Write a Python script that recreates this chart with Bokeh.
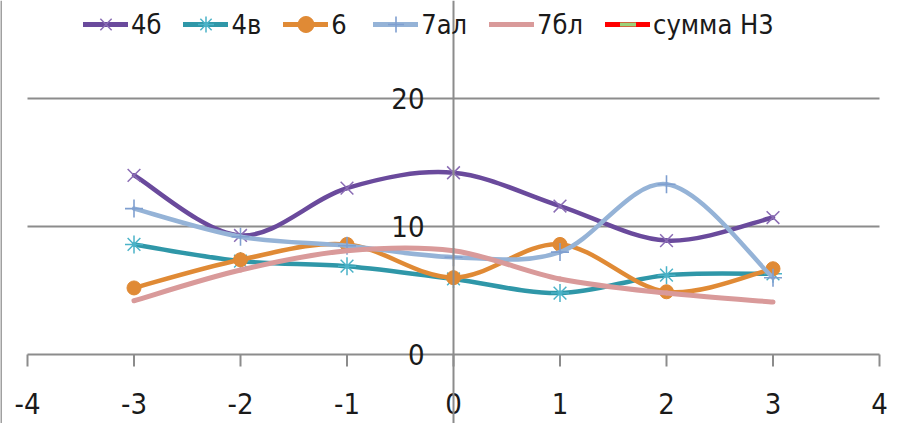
from bokeh.plotting import figure
from bokeh.models import Span, Legend, LegendItem, Range1d, ColumnDataSource
from bokeh.core.properties import value
from bokeh.embed import file_html
from bokeh.resources import INLINE

# --- data -----------------------------------------------------------------
x_vals = [-3, -2, -1, 0, 1, 2, 3]

s_4b = [14.0, 9.3, 13.0, 14.2, 11.6, 8.9, 10.7]
s_4v = [8.6, 7.3, 6.9, 5.9, 4.8, 6.2, 6.3]
s_6 = [5.2, 7.4, 8.6, 6.0, 8.6, 4.9, 6.7]
s_7al = [11.4, 9.2, 8.5, 7.6, 8.0, 13.3, 6.0]
s_7bl = [4.2, 6.6, 8.1, 8.1, 5.9, 4.8, 4.1]

series_names = ["4б", "4в", "6", "7ал", "7бл", "сумма Н3"]
y_ticks = [0, 10, 20]
x_ticks = [-4, -3, -2, -1, 0, 1, 2, 3, 4]

FONT = "'Liberation Sans Narrow', 'DejaVu Sans Condensed', 'Roboto'"
GRAY = "#8c8c8c"
TEXT = "#1a1a1a"
NAN = float("nan")

# the frame fills the whole page; both axes are drawn by hand so that
# they can cross at the origin
px_x = 106.5          # pixels per x unit
px_y = 12.8           # pixels per y unit
x_start = -4 - 27 / px_x
x_end = 4 + 18 / px_x
y_start = -(423 - 354) / px_y
y_end = 354 / px_y
x_lo, x_hi = x_ticks[0], x_ticks[-1]

p = figure(width=897, height=423, output_backend="svg", toolbar_location=None,
           x_range=Range1d(x_start, x_end), y_range=Range1d(y_start, y_end),
           min_border=0)
p.outline_line_color = None
p.background_fill_color = "white"
p.border_fill_color = "white"
p.xaxis.visible = False
p.yaxis.visible = False
p.grid.visible = False

# horizontal grid lines from -4 to 4 (the 0 line doubles as the x axis line)
p.segment(x0=[x_lo] * len(y_ticks), y0=y_ticks, x1=[x_hi] * len(y_ticks),
          y1=y_ticks, line_color=GRAY, line_width=2)

# x axis ticks and labels
tick_len = 12 / px_y
p.segment(x0=x_ticks, y0=[0] * len(x_ticks), x1=x_ticks,
          y1=[-tick_len] * len(x_ticks), line_color=GRAY, line_width=2)
p.text(x=x_ticks, y=[0] * len(x_ticks), text=[str(t) for t in x_ticks],
       text_font=value(FONT), text_font_size="29px", text_color=TEXT,
       text_align="center", text_baseline="middle", y_offset=49)

# y axis labels beside the vertical line through x = 0
p.text(x=[0] * len(y_ticks), y=y_ticks, text=[str(t) for t in y_ticks],
       text_font=value(FONT), text_font_size="29px", text_color=TEXT,
       text_align="right", text_baseline="middle", x_offset=-29)


def smooth_segments(xs, ys, k=1 / 6):
    """Cubic Bezier pieces through the points (Catmull-Rom style)."""
    n = len(xs)
    seg = dict(x0=[], y0=[], x1=[], y1=[], cx0=[], cy0=[], cx1=[], cy1=[])
    for i in range(n - 1):
        ip = max(i - 1, 0)
        inx = min(i + 2, n - 1)
        seg["x0"].append(xs[i]); seg["y0"].append(ys[i])
        seg["x1"].append(xs[i + 1]); seg["y1"].append(ys[i + 1])
        seg["cx0"].append(xs[i] + (xs[i + 1] - xs[ip]) * k)
        seg["cy0"].append(ys[i] + (ys[i + 1] - ys[ip]) * k)
        seg["cx1"].append(xs[i + 1] - (xs[inx] - xs[i]) * k)
        seg["cy1"].append(ys[i + 1] - (ys[inx] - ys[i]) * k)
    return ColumnDataSource(seg)


styles = [
    # values, line colour, width, marker, marker colour, marker size, marker line width
    (s_4b, "#6a4a9c", 4.5, "x", "#8a6cb4", 18, 1.5),
    (s_4v, "#2f97a8", 4.5, "asterisk", "#4bb3c8", 18, 1.5),
    (s_6, "#e08a35", 4.5, "circle", "#e08a35", 14, 1),
    (s_7al, "#95b3d7", 4.5, "cross", "#7f9fd0", 18, 1.6),
    (s_7bl, "#d99a9a", 5, None, None, 0, 0),
]

legend_items = []
for (ys, lc, lw, mk, mc, ms, mlw), name in zip(styles, series_names):
    p.bezier(x0="x0", y0="y0", x1="x1", y1="y1", cx0="cx0", cy0="cy0",
             cx1="cx1", cy1="cy1", source=smooth_segments(x_vals, ys),
             line_color=lc, line_width=lw, line_cap="round")
    if mk is not None:
        if mk == "circle":
            p.scatter(x_vals, ys, marker=mk, size=ms, fill_color=mc,
                      line_color=mc, line_width=mlw)
        else:
            p.scatter(x_vals, ys, marker=mk, size=ms, line_color=mc,
                      line_width=mlw)
    # legend sample: line plus marker (placeholder renderers draw nothing)
    rl = p.line([NAN], [NAN], line_color=lc, line_width=5, line_cap="round")
    rs = []
    if mk is not None:
        if mk == "circle":
            rs.append(p.scatter([NAN], [NAN], marker=mk, fill_color=mc, line_color=mc))
        else:
            rs.append(p.scatter([NAN], [NAN], marker=mk, line_color=mc, line_width=mlw))
    legend_items.append(LegendItem(label=name, renderers=[rl] + rs))

# "сумма Н3" appears only in the legend
r_sum = p.line([NAN], [NAN], line_color="#ff0000", line_width=5, line_cap="round")
r_sum_mid = p.scatter([NAN], [NAN], marker="dash", line_color="#9bd27a", line_width=4)
legend_items.append(LegendItem(label=series_names[5], renderers=[r_sum, r_sum_mid]))

legend = Legend(items=legend_items, orientation="horizontal",
                location=(83, 423 - 4 - 40), glyph_width=45, glyph_height=40,
                label_standoff=3, spacing=22, padding=0, margin=0,
                border_line_color=None, background_fill_alpha=0,
                label_text_font=FONT, label_text_font_size="27px",
                label_text_color=TEXT, label_height=40)
p.add_layout(legend)

# vertical value axis through x = 0, and the left edge line
p.add_layout(Span(location=0, dimension="height", line_color=GRAY, line_width=2))
p.add_layout(Span(location=x_start, dimension="height", line_color="#a0a0a0", line_width=3))

open("out.html", "w").write(file_html(p, INLINE))
